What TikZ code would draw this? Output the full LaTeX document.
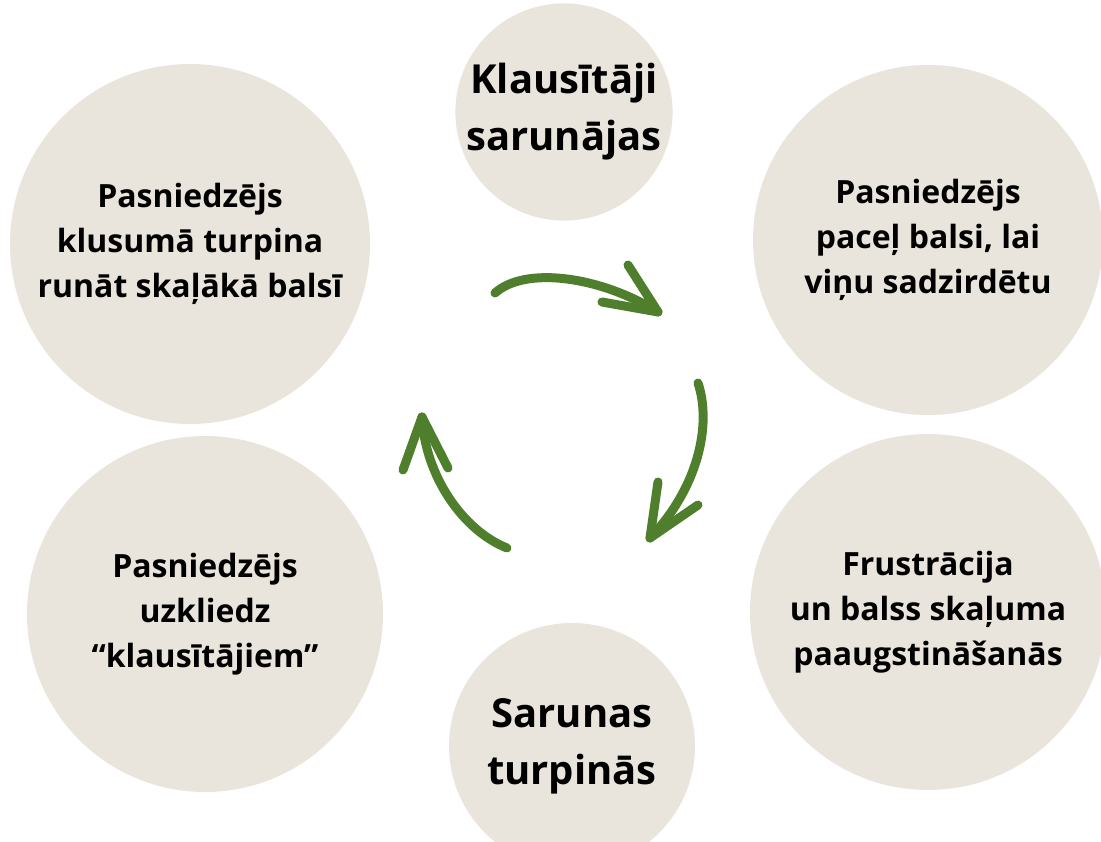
\documentclass[tikz,border=0pt]{standalone}
\usepackage{fontspec}
\setmainfont{Open Sans}
\usepackage{tikz}
\usetikzlibrary{arrows}
\definecolor{bubblefill}{HTML}{EAE5DC}
\definecolor{leafgreen}{HTML}{4F7F2C}

\begin{document}
\begin{tikzpicture}[line cap=round,line join=round,x=1pt,y=-1pt,
    bubble/.style={circle,fill=bubblefill,inner sep=0pt,align=center,
      font=\bfseries\fontsize{32}{45}\selectfont},
    bigbubble/.style={bubble,font=\bfseries\fontsize{40}{57}\selectfont},
    curl/.style={line width=9pt,color=leafgreen}]
  \useasboundingbox (0,0) rectangle (1101,842);
  % circles
  \node[bigbubble,minimum size=202pt] (listenerstalk) at (564,112) {Klausītāji\\sarunājas};
  \node[bubble,minimum size=360pt] (teacherquiet) at (190,244) {Pasniedzējs\\klusumā turpina\\runāt skaļākā balsī};
  \node[bubble,minimum size=350pt] (teacherraise) at (928,240) {Pasniedzējs\\paceļ balsi, lai\\viņu sadzirdētu};
  \node[bubble,minimum size=356pt] (frustration) at (928,612) {Frustrācija\\un balss skaļuma\\paaugstināšanās};
  \node[bubble,minimum size=356pt] (teachershout) at (205,614) {Pasniedzējs\\uzkliedz\\“klausītājiem”};
  \node[bigbubble,minimum size=246pt] (talkgoes) at (572,746) {Sarunas\\turpinās};
  % arrows
  \coordinate (topstart) at (495,293);
  \coordinate (toptip) at (658,312);
  \draw[curl] (topstart) .. controls (525,266) and (600,276) .. (toptip);
  \draw[curl] (628,265) -- (toptip) -- (602,302);
  \coordinate (rightstart) at (698,383);
  \coordinate (righttip) at (650,538);
  \draw[curl] (rightstart) .. controls (712,425) and (698,488) .. (righttip);
  \draw[curl] (658,482) -- (righttip) -- (698,505);
  \coordinate (leftstart) at (507,548);
  \coordinate (lefttip) at (422,417);
  \draw[curl] (leftstart) .. controls (462,530) and (425,475) .. (lefttip);
  \draw[curl] (403,470) -- (lefttip) -- (448,468);
\end{tikzpicture}
\end{document}
